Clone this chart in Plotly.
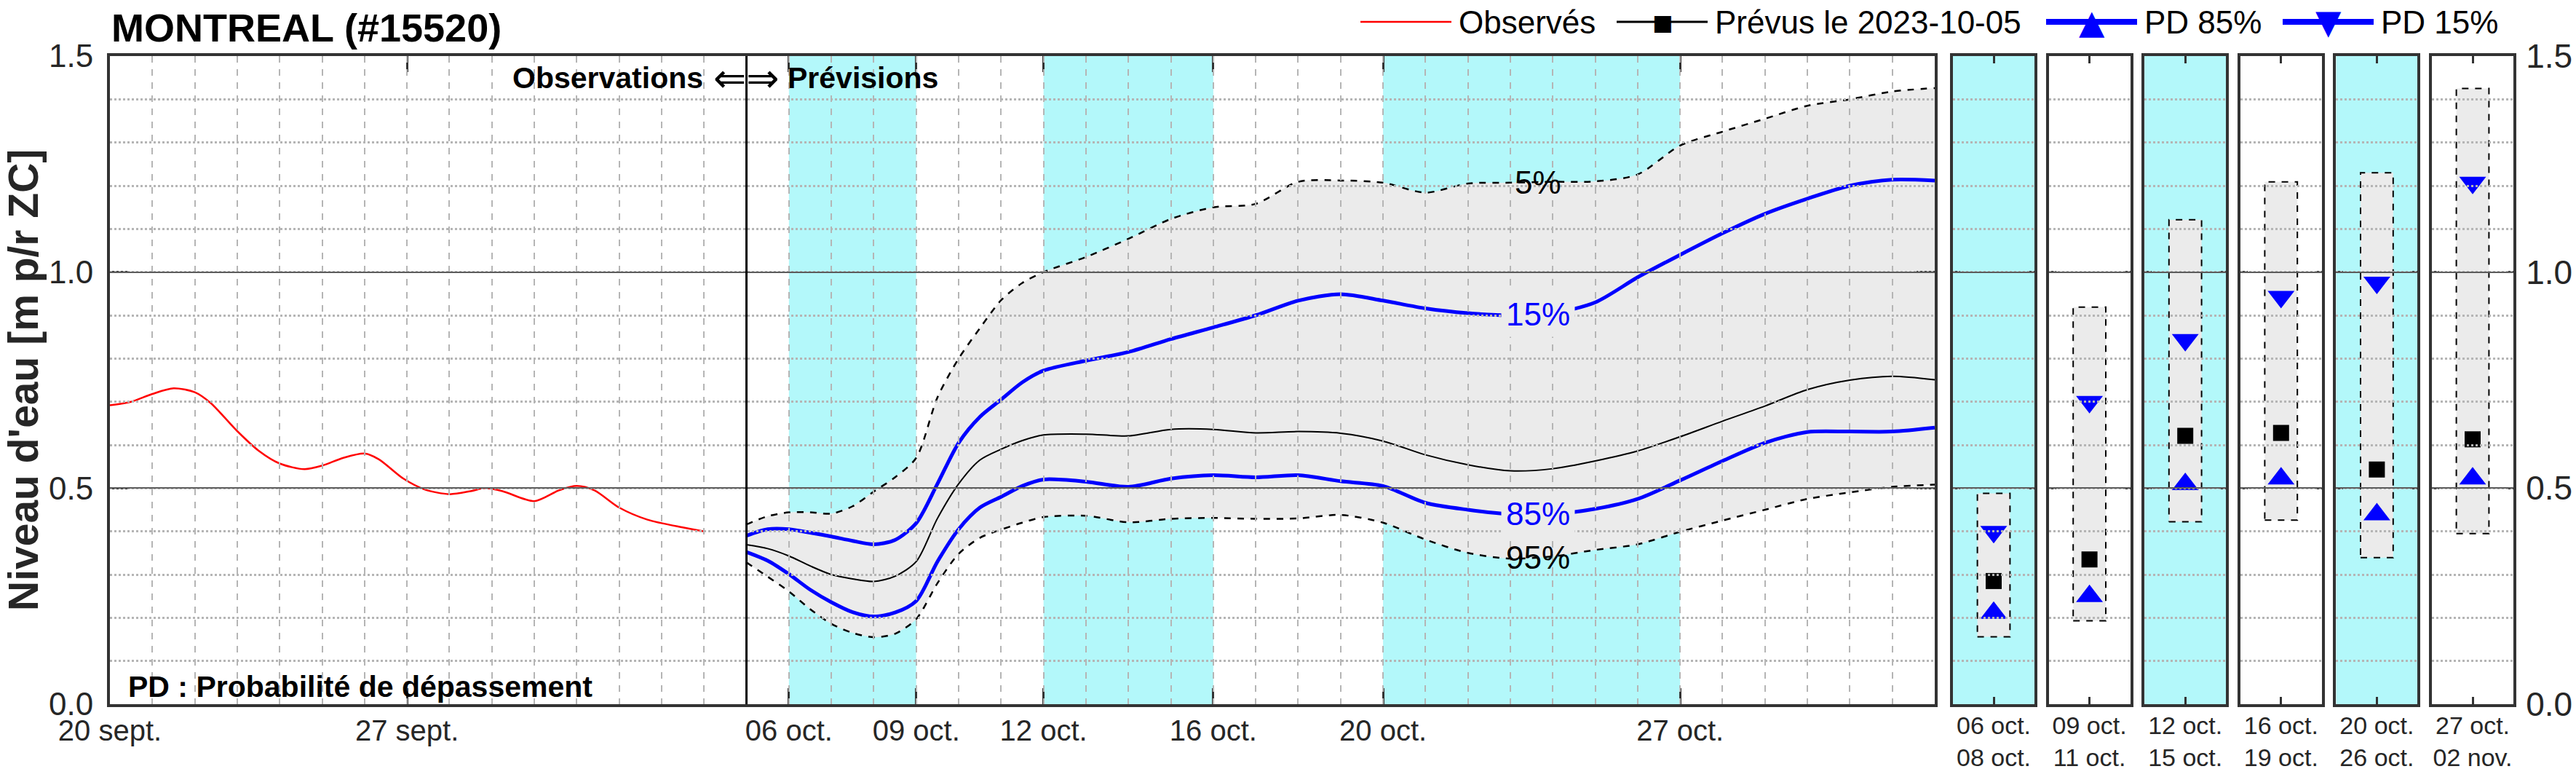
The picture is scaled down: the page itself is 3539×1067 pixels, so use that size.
import numpy as np
import pandas as pd
import plotly.graph_objects as go

W, H = 3539, 1067
FONT = "Liberation Sans, Arial, sans-serif"

TITLE = "MONTREAL (#15520)"
Y_TITLE = "Niveau d'eau [m p/r ZC]"
FORECAST_DATE = "2023-10-05"
NOTE = "PD : Probabilité de dépassement"

# ---------------- observed series ----------------
OBS_TIME = ["2023-09-20 00:00", "2023-09-20 12:00", "2023-09-21 00:00", "2023-09-21 12:00",
            "2023-09-22 00:00", "2023-09-22 09:00", "2023-09-23 00:00", "2023-09-23 12:00",
            "2023-09-24 00:00", "2023-09-24 14:00", "2023-09-25 00:00", "2023-09-25 12:00",
            "2023-09-26 00:00", "2023-09-26 08:00", "2023-09-26 22:00", "2023-09-27 10:00",
            "2023-09-28 00:00", "2023-09-28 12:00", "2023-09-28 20:00", "2023-09-29 06:00",
            "2023-09-30 00:00", "2023-09-30 14:00", "2023-10-01 00:00", "2023-10-01 10:00",
            "2023-10-02 00:00", "2023-10-02 16:00", "2023-10-03 12:00", "2023-10-04 00:00"]
OBS_LEVEL = [0.692, 0.700, 0.718, 0.731, 0.722, 0.697, 0.632, 0.587,
             0.557, 0.544, 0.552, 0.570, 0.580, 0.567, 0.522, 0.497,
             0.486, 0.493, 0.500, 0.493, 0.470, 0.495, 0.505, 0.495,
             0.455, 0.427, 0.409, 0.400]

# ---------------- forecast series ----------------
FC_TIME = ["2023-10-05 00:00", "2023-10-05 12:00", "2023-10-06 00:00", "2023-10-06 12:00",
           "2023-10-07 00:00", "2023-10-07 12:00", "2023-10-08 00:00", "2023-10-08 12:00",
           "2023-10-09 00:00", "2023-10-09 12:00", "2023-10-10 00:00", "2023-10-10 12:00",
           "2023-10-11 00:00", "2023-10-11 12:00", "2023-10-12 00:00", "2023-10-13 00:00",
           "2023-10-14 00:00", "2023-10-15 00:00", "2023-10-16 00:00", "2023-10-17 00:00",
           "2023-10-18 00:00", "2023-10-19 00:00", "2023-10-20 00:00", "2023-10-21 00:00",
           "2023-10-22 00:00", "2023-10-23 00:00", "2023-10-24 00:00", "2023-10-25 00:00",
           "2023-10-26 00:00", "2023-10-27 00:00", "2023-10-28 00:00", "2023-10-29 00:00",
           "2023-10-30 00:00", "2023-10-31 00:00", "2023-11-01 00:00", "2023-11-02 00:00"]
FC_P5 = [0.416, 0.435, 0.444, 0.444, 0.441, 0.458, 0.492, 0.525, 0.570, 0.710, 0.800, 0.870,
         0.935, 0.975, 1.000, 1.035, 1.077, 1.123, 1.150, 1.158, 1.209, 1.212, 1.207, 1.184,
         1.205, 1.207, 1.209, 1.210, 1.226, 1.293, 1.325, 1.355, 1.385, 1.400, 1.418, 1.426]
FC_P15 = [0.390, 0.405, 0.405, 0.397, 0.388, 0.378, 0.370, 0.380, 0.419, 0.510, 0.605, 0.665,
          0.705, 0.745, 0.772, 0.795, 0.815, 0.845, 0.872, 0.900, 0.934, 0.949, 0.934, 0.916,
          0.905, 0.900, 0.905, 0.930, 0.988, 1.040, 1.090, 1.135, 1.170, 1.200, 1.214, 1.212]
FC_MED = [0.369, 0.360, 0.343, 0.320, 0.300, 0.290, 0.284, 0.296, 0.330, 0.430, 0.510, 0.565,
          0.590, 0.610, 0.623, 0.625, 0.621, 0.636, 0.636, 0.628, 0.631, 0.627, 0.609, 0.577,
          0.554, 0.540, 0.545, 0.563, 0.586, 0.619, 0.655, 0.690, 0.728, 0.750, 0.759, 0.751]
FC_P85 = [0.352, 0.332, 0.301, 0.265, 0.236, 0.213, 0.203, 0.212, 0.239, 0.330, 0.405, 0.455,
          0.480, 0.505, 0.520, 0.515, 0.503, 0.522, 0.530, 0.525, 0.530, 0.516, 0.505, 0.466,
          0.450, 0.440, 0.440, 0.452, 0.475, 0.518, 0.563, 0.605, 0.630, 0.631, 0.631, 0.640]
FC_P95 = [0.328, 0.295, 0.261, 0.220, 0.186, 0.165, 0.155, 0.163, 0.197, 0.280, 0.348, 0.385,
          0.404, 0.420, 0.433, 0.436, 0.421, 0.429, 0.431, 0.429, 0.430, 0.438, 0.420, 0.381,
          0.350, 0.337, 0.342, 0.357, 0.370, 0.399, 0.425, 0.450, 0.475, 0.490, 0.503, 0.508]

SHADED_PERIODS = [("2023-10-06", "2023-10-09"), ("2023-10-12", "2023-10-16"), ("2023-10-20", "2023-10-27")]

X_RANGE = ["2023-09-20", "2023-11-02"]
X_TICK_DATES = ["2023-09-20", "2023-09-27", "2023-10-06", "2023-10-09", "2023-10-12",
                "2023-10-16", "2023-10-20", "2023-10-27"]
X_TICK_LABELS = ["20 sept.", "27 sept.", "06 oct.", "09 oct.", "12 oct.", "16 oct.", "20 oct.", "27 oct."]
Y_RANGE = [0, 1.5]
Y_TICKS = [0, 0.5, 1.0, 1.5]
Y_TICK_LABELS = ["0.0", "0.5", "1.0", "1.5"]

PCT_LABEL_TIME = "2023-10-23 15:30"

# ---------------- period panels ----------------
PANEL_START = ["06 oct.", "09 oct.", "12 oct.", "16 oct.", "20 oct.", "27 oct."]
PANEL_END = ["08 oct.", "11 oct.", "15 oct.", "19 oct.", "26 oct.", "02 nov."]
PANEL_P5 = [0.488, 0.919, 1.121, 1.209, 1.230, 1.425]
PANEL_P15 = [0.399, 0.700, 0.843, 0.943, 0.976, 1.207]
PANEL_MED = [0.285, 0.335, 0.621, 0.628, 0.543, 0.613]
PANEL_P85 = [0.211, 0.250, 0.509, 0.522, 0.439, 0.522]
PANEL_P95 = [0.156, 0.193, 0.422, 0.426, 0.339, 0.395]
PANEL_SHADED = [True, False, True, False, True, False]

# ---------------- legend entries ----------------
LEGEND_LABELS = ["Observés", f"Prévus le {FORECAST_DATE}", "PD 85%", "PD 15%"]
LEGEND_SYMBOLS = [None, "■", "▲", "▼"]

# ---------------- styles ----------------
CYAN = "#b3f8fa"
GRAY_FILL = "#ebebeb"
BLUE = "#0000ff"
RED = "#ff0000"
AXC = "#333333"
TXT = "#262626"
MINOR_GRID = "#b5b5b5"
MAJOR_GRID = "#5c5c5c"
LEGEND_COLORS = [RED, "black", BLUE, BLUE]
LEGEND_LINE_W = [2.5, 3, 8, 8]
LEGEND_X_PX = [1869, 2221, 2811, 3136]
LEGEND_LINE_LEN = 125
LEGEND_Y_PX = 30

Y0_PX, Y1_PX = 967, 77
ydom = [(H - Y0_PX) / H, (H - Y1_PX) / H]
main_dom = [151 / W, 2658 / W]
panel_left0, panel_pitch, panel_w = 2683, 131.6, 112
panel_doms = [[(panel_left0 + i * panel_pitch) / W, (panel_left0 + i * panel_pitch + panel_w) / W]
              for i in range(6)]
BOX_CENTER, BOX_HALF = 0.5, 0.2
spl = dict(shape="spline", smoothing=0.8)

fig = go.Figure()

# observed
fig.add_trace(go.Scatter(x=OBS_TIME, y=OBS_LEVEL, mode="lines", name="Observés",
                         line=dict(color=RED, width=2.5, **spl), xaxis="x", yaxis="y"))
# envelope
fig.add_trace(go.Scatter(x=FC_TIME, y=FC_P5, mode="lines",
                         line=dict(color="black", width=2.5, dash="dash", **spl)))
fig.add_trace(go.Scatter(x=FC_TIME, y=FC_P95, mode="lines", fill="tonexty", fillcolor=GRAY_FILL,
                         line=dict(color="black", width=2.5, dash="dash", **spl)))
fig.add_trace(go.Scatter(x=FC_TIME, y=FC_P15, mode="lines", line=dict(color=BLUE, width=5, **spl)))
fig.add_trace(go.Scatter(x=FC_TIME, y=FC_P85, mode="lines", line=dict(color=BLUE, width=5, **spl)))
fig.add_trace(go.Scatter(x=FC_TIME, y=FC_MED, mode="lines", line=dict(color="black", width=2, **spl)))

# panels
for i in range(6):
    xa, ya = f"x{2 + i}", f"y{2 + i}"
    bx = [BOX_CENTER - BOX_HALF, BOX_CENTER + BOX_HALF, BOX_CENTER + BOX_HALF,
          BOX_CENTER - BOX_HALF, BOX_CENTER - BOX_HALF]
    by = [PANEL_P95[i], PANEL_P95[i], PANEL_P5[i], PANEL_P5[i], PANEL_P95[i]]
    fig.add_trace(go.Scatter(x=bx, y=by, mode="lines", fill="toself", fillcolor=GRAY_FILL,
                             line=dict(color="black", width=2, dash="dash"),
                             xaxis=xa, yaxis=ya, hoverinfo="skip"))
    fig.add_trace(go.Scatter(x=[BOX_CENTER], y=[PANEL_MED[i]], mode="markers",
                             marker=dict(symbol="square", size=22, color="black"), xaxis=xa, yaxis=ya))
    fig.add_trace(go.Scatter(x=[BOX_CENTER], y=[PANEL_P85[i]], mode="markers",
                             marker=dict(symbol="triangle-up", size=32, color=BLUE), xaxis=xa, yaxis=ya))
    fig.add_trace(go.Scatter(x=[BOX_CENTER], y=[PANEL_P15[i]], mode="markers",
                             marker=dict(symbol="triangle-down", size=32, color=BLUE), xaxis=xa, yaxis=ya))

# grid overlay subplots (drawn above data so the grid shows through the fills)
fig.add_trace(go.Scatter(x=[], y=[], xaxis="x8", yaxis="y8", hoverinfo="skip"))
for i in range(6):
    fig.add_trace(go.Scatter(x=[], y=[], xaxis=f"x{9 + i}", yaxis=f"y{9 + i}", hoverinfo="skip"))

tick_style = dict(ticks="inside", tickcolor=AXC, tickwidth=3, showline=True, linecolor=AXC,
                  linewidth=4, mirror="ticks", showgrid=False, zeroline=False, automargin=False)
hidden = dict(showticklabels=False, ticks="", showline=False, zeroline=False, automargin=False)

layout = dict(
    width=W, height=H, autosize=False,
    margin=dict(l=0, r=0, t=0, b=0, pad=0),
    paper_bgcolor="white", plot_bgcolor="rgba(0,0,0,0)",
    font=dict(family=FONT, color="black"),
    showlegend=False,
    xaxis=dict(type="date", range=X_RANGE, domain=main_dom, anchor="y", tickmode="array",
               tickvals=X_TICK_DATES, ticktext=X_TICK_LABELS, ticklen=22,
               tickfont=dict(size=40, family=FONT, color=TXT), ticklabelstandoff=-2, **tick_style),
    yaxis=dict(range=Y_RANGE, domain=ydom, anchor="x", tickmode="array", tickvals=Y_TICKS,
               ticktext=Y_TICK_LABELS, ticklen=25, ticklabelstandoff=10,
               tickfont=dict(size=44, family=FONT, color=TXT), **tick_style),
    xaxis8=dict(type="date", range=X_RANGE, domain=main_dom, anchor="y8", tickmode="array",
                tickvals=X_TICK_DATES, showgrid=True, gridcolor=MINOR_GRID, gridwidth=2, griddash="dash",
                minor=dict(dtick=86400000, tick0=X_RANGE[0], showgrid=True, gridcolor=MINOR_GRID,
                           gridwidth=2, griddash="dash"), **hidden),
    yaxis8=dict(range=Y_RANGE, domain=ydom, anchor="x8", tickmode="array", tickvals=Y_TICKS,
                showgrid=True, gridcolor=MAJOR_GRID, gridwidth=2,
                minor=dict(dtick=0.1, tick0=0, showgrid=True, gridcolor=MINOR_GRID, gridwidth=2.5,
                           griddash="dot"), **hidden),
)

for i in range(6):
    n, g = 2 + i, 9 + i
    layout[f"xaxis{n}"] = dict(range=[0, 1], domain=panel_doms[i], anchor=f"y{n}", tickmode="array",
                               tickvals=[BOX_CENTER], ticktext=[f"{PANEL_START[i]}<br>{PANEL_END[i]}"],
                               ticklen=10, tickfont=dict(size=34, family=FONT, color=TXT),
                               ticklabelstandoff=-4, **tick_style)
    layout[f"yaxis{n}"] = dict(range=Y_RANGE, domain=ydom, anchor=f"x{n}", tickmode="array",
                               tickvals=Y_TICKS, ticktext=Y_TICK_LABELS, ticklen=10,
                               showticklabels=(i == 5), side="right" if i == 5 else "left",
                               ticklabelstandoff=4,
                               tickfont=dict(size=46, family=FONT, color=TXT), **tick_style)
    layout[f"xaxis{g}"] = dict(range=[0, 1], domain=panel_doms[i], anchor=f"y{g}", showgrid=False, **hidden)
    layout[f"yaxis{g}"] = dict(range=Y_RANGE, domain=ydom, anchor=f"x{g}", tickmode="array",
                               tickvals=Y_TICKS, showgrid=True, gridcolor=MAJOR_GRID, gridwidth=2,
                               minor=dict(dtick=0.1, tick0=0, showgrid=True, gridcolor=MINOR_GRID,
                                          gridwidth=2.5, griddash="dot"), **hidden)

fig.update_layout(**layout)

# background shading + divider + legend lines
shapes = []
for s, e in SHADED_PERIODS:
    shapes.append(dict(type="rect", xref="x", yref="y domain", x0=s, x1=e, y0=0, y1=1,
                       fillcolor=CYAN, line=dict(width=0), layer="below"))
for i in range(6):
    if PANEL_SHADED[i]:
        shapes.append(dict(type="rect", xref=f"x{2 + i} domain", yref=f"y{2 + i} domain",
                           x0=0, x1=1, y0=0, y1=1, fillcolor=CYAN, line=dict(width=0), layer="below"))
shapes.append(dict(type="line", xref="x", yref="y domain", x0=FORECAST_DATE, x1=FORECAST_DATE,
                   y0=0, y1=1, line=dict(color="black", width=3), layer="above"))

ly = 1 - LEGEND_Y_PX / H
for lab, sym, col, lw, lx in zip(LEGEND_LABELS, LEGEND_SYMBOLS, LEGEND_COLORS, LEGEND_LINE_W, LEGEND_X_PX):
    shapes.append(dict(type="line", xref="paper", yref="paper", x0=lx / W, x1=(lx + LEGEND_LINE_LEN) / W,
                       y0=ly, y1=ly, line=dict(color=col, width=lw)))
    if sym:
        fig.add_annotation(x=(lx + LEGEND_LINE_LEN / 2) / W, y=ly, xref="paper", yref="paper", text=sym,
                           showarrow=False, xanchor="center", yanchor="middle",
                           font=dict(size=30 if sym == "■" else 46, color=col, family="DejaVu Sans"))
    fig.add_annotation(x=(lx + LEGEND_LINE_LEN + 8) / W, y=ly, xref="paper", yref="paper", text=lab,
                       showarrow=False, xanchor="left", yanchor="middle",
                       font=dict(size=44, color="black", family=FONT))
fig.update_layout(shapes=shapes)

# percent labels placed on their curves
t_fc = pd.to_datetime(FC_TIME)
t_num = (t_fc - t_fc[0]).total_seconds().values
t_lab = (pd.Timestamp(PCT_LABEL_TIME) - t_fc[0]).total_seconds()
for series, txt, col, bg in [(FC_P5, "5%", "black", None), (FC_P15, "15%", BLUE, GRAY_FILL),
                             (FC_P85, "85%", BLUE, GRAY_FILL), (FC_P95, "95%", "black", None)]:
    yv = float(np.interp(t_lab, t_num, series))
    fig.add_annotation(x=PCT_LABEL_TIME, y=yv, xref="x", yref="y", text=txt, showarrow=False,
                       font=dict(size=44, color=col, family=FONT),
                       bgcolor=bg if bg else "rgba(0,0,0,0)", borderpad=6)

# texts
fig.add_annotation(x=151 / W, y=1 - 38 / H, xref="paper", yref="paper", text=f"<b>{TITLE}</b>",
                   showarrow=False, xanchor="left", yanchor="middle", font=dict(size=54, family=FONT))
fig.add_annotation(x=32 / W, y=(ydom[0] + ydom[1]) / 2, xref="paper", yref="paper",
                   text=f"<b>{Y_TITLE}</b>", textangle=-90, showarrow=False,
                   xanchor="center", yanchor="middle", font=dict(size=57, family=FONT, color=TXT))
fig.add_annotation(x=0.009, y=0.027, xref="x domain", yref="y domain", text=f"<b>{NOTE}</b>",
                   showarrow=False, xanchor="left", yanchor="middle", font=dict(size=41, family=FONT))
fig.add_annotation(x=FORECAST_DATE, y=0.966, xref="x", yref="y domain", text="<b>Observations</b>",
                   showarrow=False, xanchor="right", yanchor="middle", xshift=-58,
                   font=dict(size=41, family=FONT))
fig.add_annotation(x=FORECAST_DATE, y=0.966, xref="x", yref="y domain", text="⇐⇒",
                   showarrow=False, xanchor="center", yanchor="middle",
                   font=dict(size=54, family="DejaVu Sans"))
fig.add_annotation(x=FORECAST_DATE, y=0.966, xref="x", yref="y domain", text="<b>Prévisions</b>",
                   showarrow=False, xanchor="left", yanchor="middle", xshift=54,
                   font=dict(size=41, family=FONT))

fig.write_html("out.html")
